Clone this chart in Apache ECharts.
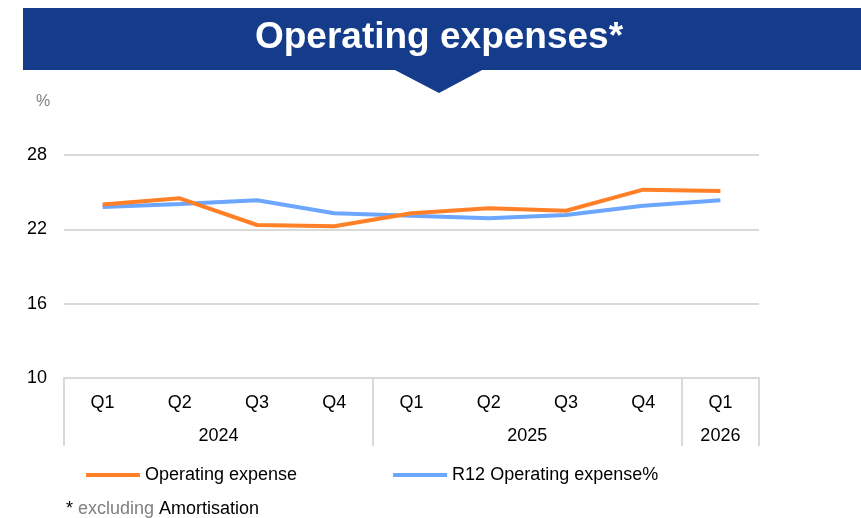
<!DOCTYPE html>
<html>
<head>
<meta charset="utf-8">
<script src="https://cdn.jsdelivr.net/npm/echarts@6/dist/echarts.min.js"></script>
<style>
  html, body { margin: 0; padding: 0; background: #fff; }
  #chart { width: 861px; height: 518px; }
</style>
</head>
<body>
<div id="chart"></div>
<script>
// quarters on the x axis
var quarters = ["Q1", "Q2", "Q3", "Q4", "Q1", "Q2", "Q3", "Q4", "Q1"];
// year groups and how many quarters each spans
var years = ["2024", "2025", "2026"];
var yearSpans = [4, 4, 1];
// series values (%)
var opex = [24.0, 24.5, 22.35, 22.25, 23.3, 23.7, 23.5, 25.2, 25.1];
var r12Opex = [23.8, 24.05, 24.35, 23.3, 23.1, 22.9, 23.15, 23.9, 24.35];
// y ticks
var yTicks = [10, 16, 22, 28];

// group boundaries / centres in quarter units
var bounds = [0];
var centres = [];
yearSpans.forEach(function (s, i) {
  centres.push(bounds[i] + s / 2);
  bounds.push(bounds[i] + s);
});

var chart = echarts.init(document.getElementById("chart"));
var font = "Liberation Sans, Arial, sans-serif";

var option = {
  animation: false,
  textStyle: { fontFamily: font },
  title: [
    {
      text: "* {g|excluding} Amortisation",
      left: 61,
      top: 495,
      textStyle: {
        fontSize: 18,
        fontWeight: "normal",
        color: "#000",
        rich: { g: { fontSize: 18, color: "#7f7f7f" } }
      }
    },
    {
      text: "%",
      left: 31,
      top: 89,
      textStyle: { fontSize: 16, fontWeight: "normal", color: "#7f7f7f" }
    }
  ],
  graphic: [
    {
      type: "rect",
      shape: { x: 23, y: 8, width: 840, height: 62 },
      style: { fill: "#143c8a" },
      z: 10
    },
    {
      type: "polygon",
      shape: { points: [[393, 69], [484, 69], [439, 93]] },
      style: { fill: "#143c8a" },
      z: 10
    },
    {
      type: "text",
      x: 439,
      y: 38,
      style: {
        text: "Operating expenses*",
        fill: "#fff",
        font: "bold 37px Liberation Sans, Arial, sans-serif",
        align: "center",
        verticalAlign: "middle"
      },
      z: 11
    }
  ],
  legend: {
    left: 81,
    top: 461,
    itemWidth: 54,
    itemHeight: 4,
    itemGap: 96,
    icon: "rect",
    textStyle: { fontSize: 18, color: "#000" },
    data: ["Operating expense", "R12 Operating expense%"]
  },
  grid: { left: 64, right: 102, top: 155, bottom: 140 },
  xAxis: [
    {
      type: "category",
      data: quarters,
      boundaryGap: true,
      axisLine: { show: true, lineStyle: { color: "#d9d9d9", width: 2 } },
      axisTick: { show: false },
      axisLabel: { color: "#000", fontSize: 18, margin: 16, interval: 0 }
    },
    {
      type: "value",
      position: "bottom",
      min: 0,
      max: quarters.length,
      axisLine: { show: false },
      splitLine: { show: false },
      axisTick: {
        show: true,
        customValues: bounds,
        length: 68,
        lineStyle: { color: "#d9d9d9", width: 2 }
      },
      axisLabel: {
        customValues: centres,
        color: "#000",
        fontSize: 18,
        margin: 49,
        formatter: function (v) {
          var i = centres.indexOf(v);
          return i >= 0 ? years[i] : "";
        }
      }
    }
  ],
  yAxis: {
    type: "value",
    min: yTicks[0],
    max: yTicks[yTicks.length - 1],
    interval: 6,
    axisLine: { show: false },
    axisTick: { show: false },
    axisLabel: { color: "#000", fontSize: 18, margin: 17 },
    splitLine: { lineStyle: { color: "#d9d9d9", width: 2 } }
  },
  series: [
    {
      name: "Operating expense",
      type: "line",
      data: opex,
      symbol: "none",
      color: "#ff8026",
      lineStyle: { width: 4, color: "#ff8026" },
      z: 3
    },
    {
      name: "R12 Operating expense%",
      type: "line",
      data: r12Opex,
      symbol: "none",
      color: "#6ca6ff",
      lineStyle: { width: 4, color: "#6ca6ff" },
      z: 2
    }
  ]
};

chart.setOption(option);
</script>
</body>
</html>
